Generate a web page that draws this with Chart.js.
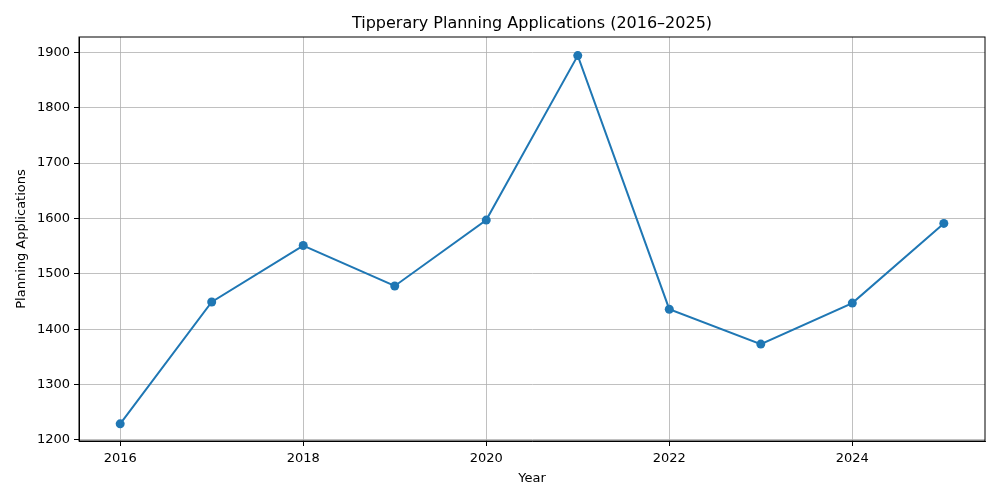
<!DOCTYPE html>
<html>
<head>
<meta charset="utf-8">
<script src="https://cdn.jsdelivr.net/npm/chart.js@4.4.1/dist/chart.umd.min.js"></script>
<style>
  html, body { margin: 0; padding: 0; background: #fff; }
  #wrap { width: 1000px; height: 500px; }
</style>
</head>
<body>
<div id="wrap"><canvas id="myChart" width="1000" height="500"></canvas></div>
<script>
// data
var years = [2016, 2017, 2018, 2019, 2020, 2021, 2022, 2023, 2024, 2025];
var applications = [1229, 1449, 1551, 1478, 1597, 1894, 1436, 1373, 1447, 1591];
var xTicks = [2016, 2018, 2020, 2022, 2024];
var yTicks = [1200, 1300, 1400, 1500, 1600, 1700, 1800, 1900];
var titleText = 'Tipperary Planning Applications (2016\u20132025)';

var points = [];
for (var i = 0; i < years.length; i++) {
    points.push({x: years[i], y: applications[i]});
}

var FONT = "'DejaVu Sans', sans-serif";

// top/right spines and the title centred over the axes, like matplotlib
var framePlugin = {
    id: 'frame',
    afterDraw: function(chart) {
        var ctx = chart.ctx;
        var a = chart.chartArea;
        ctx.save();
        ctx.strokeStyle = '#000';
        ctx.lineWidth = 1;
        ctx.strokeRect(a.left, a.top, a.right - a.left, a.bottom - a.top);
        ctx.fillStyle = '#000';
        ctx.font = '16px ' + FONT;
        ctx.textAlign = 'center';
        ctx.textBaseline = 'middle';
        ctx.fillText(titleText, (a.left + a.right) / 2, 24);
        ctx.restore();
    }
};

const ctx = document.getElementById('myChart').getContext('2d');
const myChart = new Chart(ctx, {
    type: 'line',
    data: {
        datasets: [{
            label: 'Planning Applications',
            data: points,
            borderColor: '#1f77b4',
            backgroundColor: '#1f77b4',
            borderWidth: 2,
            pointRadius: 4.5,
            pointBorderWidth: 0,
            pointHoverRadius: 4.5,
            tension: 0,
            fill: false
        }]
    },
    options: {
        responsive: false,
        animation: false,
        devicePixelRatio: 1,
        layout: { padding: { left: 0, right: 15, top: 37, bottom: 0 } },
        plugins: {
            legend: { display: false },
            title: { display: false },
            tooltip: { enabled: false }
        },
        scales: {
            x: {
                type: 'linear',
                min: 2015.55,
                max: 2025.45,
                afterBuildTicks: function(scale) {
                    scale.ticks = xTicks.map(function(v) { return {value: v}; });
                },
                afterFit: function(scale) { scale.height = 59; },
                grid: { color: '#b0b0b0', lineWidth: 0.8, tickColor: '#000', tickLength: 5, tickWidth: 1 },
                border: { display: true, color: '#000', width: 1 },
                ticks: {
                    color: '#000',
                    font: { family: FONT, size: 13 },
                    padding: 5,
                    maxRotation: 0,
                    callback: function(v) { return String(v); }
                },
                title: {
                    display: true,
                    text: 'Year',
                    color: '#000',
                    font: { family: FONT, size: 13 },
                    padding: { top: 0, bottom: 14 }
                }
            },
            y: {
                min: 1198,
                max: 1927.6,
                afterBuildTicks: function(scale) {
                    scale.ticks = yTicks.map(function(v) { return {value: v}; });
                },
                afterFit: function(scale) { scale.width = 79; },
                grid: { color: '#b0b0b0', lineWidth: 0.8, tickColor: '#000', tickLength: 5, tickWidth: 1 },
                border: { display: true, color: '#000', width: 1 },
                ticks: {
                    color: '#000',
                    font: { family: FONT, size: 13 },
                    padding: 4,
                    callback: function(v) { return String(v); }
                },
                title: {
                    display: true,
                    text: 'Planning Applications',
                    color: '#000',
                    font: { family: FONT, size: 13 },
                    padding: { top: 14, bottom: 0 }
                }
            }
        }
    },
    plugins: [framePlugin]
});
</script>
</body>
</html>
